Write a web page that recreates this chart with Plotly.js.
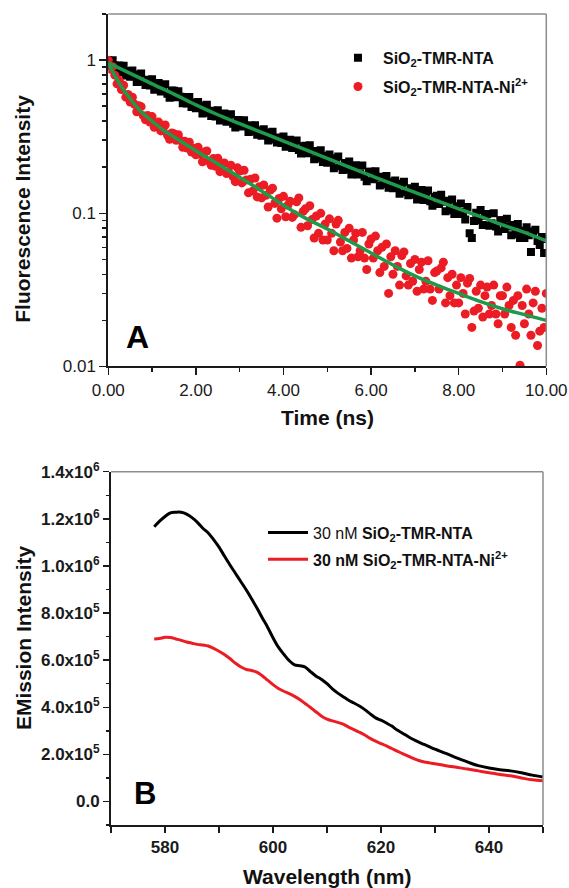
<!DOCTYPE html>
<html><head><meta charset="utf-8">
<script src="https://cdn.plot.ly/plotly-3.0.1.min.js"></script>
<style>html,body{margin:0;padding:0;background:#fff}#chart{width:569px;height:888px}</style>
</head><body><div id="chart"></div>
<script>
// ---------- Panel A : fluorescence decay ----------
const time = [0,0.05,0.1,0.15,0.2,0.25,0.3,0.35,0.4,0.45,
0.5,0.55,0.6,0.65,0.7,0.75,0.8,0.85,0.9,0.95,
1,1.05,1.1,1.15,1.2,1.25,1.3,1.35,1.4,1.45,
1.5,1.55,1.6,1.65,1.7,1.75,1.8,1.85,1.9,1.95,
2,2.05,2.1,2.15,2.2,2.25,2.3,2.35,2.4,2.45,
2.5,2.55,2.6,2.65,2.7,2.75,2.8,2.85,2.9,2.95,
3,3.05,3.1,3.15,3.2,3.25,3.3,3.35,3.4,3.45,
3.5,3.55,3.6,3.65,3.7,3.75,3.8,3.85,3.9,3.95,
4,4.05,4.1,4.15,4.2,4.25,4.3,4.35,4.4,4.45,
4.5,4.55,4.6,4.65,4.7,4.75,4.8,4.85,4.9,4.95,
5,5.05,5.1,5.15,5.2,5.25,5.3,5.35,5.4,5.45,
5.5,5.55,5.6,5.65,5.7,5.75,5.8,5.85,5.9,5.95,
6,6.05,6.1,6.15,6.2,6.25,6.3,6.35,6.4,6.45,
6.5,6.55,6.6,6.65,6.7,6.75,6.8,6.85,6.9,6.95,
7,7.05,7.1,7.15,7.2,7.25,7.3,7.35,7.4,7.45,
7.5,7.55,7.6,7.65,7.7,7.75,7.8,7.85,7.9,7.95,
8,8.05,8.1,8.15,8.2,8.25,8.3,8.35,8.4,8.45,
8.5,8.55,8.6,8.65,8.7,8.75,8.8,8.85,8.9,8.95,
9,9.05,9.1,9.15,9.2,9.25,9.3,9.35,9.4,9.45,
9.5,9.55,9.6,9.65,9.7,9.75,9.8,9.85,9.9,9.95,
10];

const decayFree = [1.0,0.917,1.0,0.924,0.838,0.922,0.838,0.919,0.795,0.850,
0.779,0.855,0.786,0.719,0.807,0.818,0.723,0.689,0.744,0.683,
0.749,0.641,0.693,0.708,0.625,0.635,0.695,0.603,0.569,0.633,
0.63,0.572,0.627,0.577,0.523,0.575,0.522,0.574,0.495,0.528,
0.485,0.532,0.49,0.449,0.505,0.512,0.453,0.432,0.467,0.429,
0.471,0.404,0.437,0.448,0.396,0.404,0.443,0.385,0.363,0.406,
0.404,0.369,0.405,0.374,0.339,0.374,0.342,0.376,0.326,0.349,
0.321,0.354,0.326,0.299,0.337,0.341,0.303,0.29,0.313,0.288,
0.317,0.272,0.294,0.302,0.267,0.271,0.299,0.259,0.246,0.274,
0.276,0.247,0.278,0.253,0.225,0.255,0.228,0.258,0.216,0.237,
0.214,0.242,0.22,0.197,0.229,0.235,0.203,0.192,0.213,0.193,
0.218,0.179,0.2,0.206,0.179,0.182,0.205,0.173,0.162,0.187,
0.187,0.167,0.188,0.171,0.152,0.173,0.155,0.175,0.147,0.161,
0.146,0.164,0.149,0.134,0.156,0.161,0.138,0.131,0.146,0.132,
0.149,0.123,0.137,0.142,0.122,0.126,0.141,0.12,0.112,0.128,
0.13,0.115,0.132,0.119,0.103,0.121,0.105,0.123,0.099,0.111,
0.099,0.116,0.102,0.091,0.11,0.074,0.069,0.089,0.101,0.09,
0.105,0.084,0.096,0.099,0.083,0.086,0.1,0.082,0.076,0.09,
0.09,0.079,0.092,0.082,0.072,0.084,0.073,0.085,0.069,0.077,
0.069,0.081,0.072,0.056,0.076,0.078,0.066,0.062,0.07,0.055,
0.068];

const decayNi = [1.0,0.873,0.907,0.798,0.70,0.738,0.643,0.685,0.573,0.597,
0.532,0.572,0.515,0.46,0.504,0.497,0.434,0.408,0.435,0.394,
0.428,0.364,0.389,0.394,0.345,0.348,0.377,0.324,0.304,0.335,
0.331,0.30,0.326,0.299,0.27,0.295,0.267,0.291,0.251,0.266,
0.241,0.27,0.244,0.217,0.251,0.255,0.219,0.206,0.228,0.203,
0.229,0.187,0.207,0.213,0.182,0.185,0.206,0.173,0.161,0.198,
0.189,0.158,0.191,0.165,0.136,0.167,0.14,0.17,0.128,0.149,
0.126,0.153,0.131,0.11,0.142,0.146,0.116,0.093,0.125,0.107,
0.129,0.095,0.113,0.12,0.094,0.098,0.119,0.126,0.081,0.103,
0.107,0.083,0.112,0.091,0.069,0.096,0.074,0.1,0.067,0.085,
0.067,0.092,0.074,0.057,0.085,0.09,0.065,0.057,0.075,0.059,
0.08,0.051,0.067,0.074,0.052,0.057,0.075,0.051,0.043,0.063,
0.068,0.051,0.071,0.057,0.041,0.06,0.045,0.063,0.03,0.052,
0.04,0.057,0.045,0.034,0.053,0.056,0.039,0.034,0.047,0.036,
0.05,0.031,0.043,0.048,0.032,0.036,0.049,0.032,0.027,0.041,
0.042,0.032,0.044,0.048,0.026,0.038,0.029,0.04,0.026,0.034,
0.026,0.038,0.03,0.022,0.035,0.0375,0.018,0.023,0.031,0.024,
0.034,0.021,0.029,0.033,0.022,0.025,0.034,0.022,0.019,0.029,
0.029,0.022,0.033,0.025,0.018,0.027,0.016,0.029,0.0102,0.025,
0.019,0.032,0.022,0.016,0.026,0.031,0.0137,0.017,0.024,0.018,
0.03];

const fitTimeFree = [0,0.5,1,1.5,2,2.5,3,3.5,4,4.5,5,5.5,6,6.5,7,7.5,8,8.5,9,9.5,10];
const fitFree = [0.96,0.82,0.70,0.60,0.51,0.44,0.385,0.338,0.296,0.26,0.228,0.2,0.176,0.155,0.137,0.121,0.107,0.095,0.084,0.075,0.066];
const fitTimeNi = [0,0.1,0.2,0.3,0.5,0.75,1,1.25,1.5,2,2.5,3,3.5,4,4.5,5,5.5,6,6.5,7,7.5,8,8.5,9,9.5,10];
const fitNi = [0.96,0.84,0.75,0.67,0.56,0.46,0.40,0.35,0.315,0.256,0.21,0.172,0.14,0.113,0.093,0.079,0.066,0.055,0.046,0.039,0.034,0.030,0.0265,0.0238,0.0218,0.020];

const decayTickVals = [0.01,0.1,1];
const decayTickText = ['0.01','0.1','1'];
const decayMinorVals = [0.02,0.03,0.04,0.05,0.06,0.07,0.08,0.09,0.2,0.3,0.4,0.5,0.6,0.7,0.8,0.9,2];
const timeTickVals = [0,2,4,6,8,10];
const timeTickText = ['0.00','2.00','4.00','6.00','8.00','10.00'];
const timeMinorVals = [1,3,5,7,9];

// ---------- Panel B : emission spectra ----------
const wavelength = [578,579,580,581,582,583,584,585,586,587,588,589,590,591,592,593,594,595,596,597,
598,599,600,601,602,603,604,605,606,607,608,609,610,611,612,613,614,615,616,617,
618,619,620,621,622,623,624,625,626,627,628,629,630,632,634,636,638,640,642,644,646,648,650];
const emFree = [1.166e6,1.19e6,1.21e6,1.225e6,1.228e6,1.228e6,1.22e6,1.205e6,1.185e6,1.16e6,
1.14e6,1.112e6,1.08e6,1.042e6,1.005e6,0.97e6,0.935e6,0.9e6,0.862e6,0.822e6,
0.78e6,0.74e6,0.695e6,0.655e6,0.625e6,0.598e6,0.58e6,0.576e6,0.57e6,0.55e6,
0.532e6,0.518e6,0.5e6,0.478e6,0.46e6,0.445e6,0.43e6,0.418e6,0.405e6,0.39e6,
0.372e6,0.355e6,0.345e6,0.333e6,0.32e6,0.303e6,0.29e6,0.276e6,0.263e6,0.252e6,
0.242e6,0.232e6,0.222e6,0.204e6,0.185e6,0.168e6,0.152e6,0.142e6,0.135e6,0.13e6,
0.122e6,0.112e6,0.104e6];
const emNi = [0.69e6,0.692e6,0.697e6,0.696e6,0.69e6,0.684e6,0.677e6,0.672e6,0.667e6,0.664e6,
0.66e6,0.65e6,0.638e6,0.624e6,0.607e6,0.588e6,0.572e6,0.561e6,0.556e6,0.549e6,
0.534e6,0.515e6,0.496e6,0.48e6,0.468e6,0.458e6,0.446e6,0.432e6,0.415e6,0.398e6,
0.38e6,0.362e6,0.35e6,0.342e6,0.336e6,0.328e6,0.316e6,0.305e6,0.294e6,0.282e6,
0.268e6,0.256e6,0.246e6,0.236e6,0.225e6,0.214e6,0.203e6,0.193e6,0.183e6,0.174e6,
0.168e6,0.164e6,0.16e6,0.152e6,0.145e6,0.138e6,0.13e6,0.122e6,0.115e6,0.109e6,
0.1e6,0.092e6,0.088e6];

const emTickVals = [0,2e5,4e5,6e5,8e5,1e6,1.2e6,1.4e6];
const emTickText = ['0.0','2.0x10<sup>5</sup>','4.0x10<sup>5</sup>','6.0x10<sup>5</sup>','8.0x10<sup>5</sup>','1.0x10<sup>6</sup>','1.2x10<sup>6</sup>','1.4x10<sup>6</sup>'];
const emMinorVals = [-1e5,1e5,3e5,5e5,7e5,9e5,1.1e6,1.3e6];
const wlTickVals = [580,600,620,640];
const wlMinorVals = [570,590,610,630,650];

const FONT = 'Liberation Sans, Arial, sans-serif';
const GREEN = '#1f9a4a', RED = '#ec1c24', BLACK = '#000000';

const traces = [
  {x: time, y: decayFree, xaxis:'x', yaxis:'y', type:'scatter', mode:'markers',
   name:'<b>SiO<sub>2</sub>-TMR-NTA</b>', legendgroup:'a', legend:'legend',
   marker:{symbol:'square', size:8, color:BLACK}},
  {x: time, y: decayNi, xaxis:'x', yaxis:'y', type:'scatter', mode:'markers',
   name:'<b>SiO<sub>2</sub>-TMR-NTA-Ni<sup>2+</sup></b>', legendgroup:'b', legend:'legend',
   marker:{symbol:'circle', size:9, color:RED}},
  {x: fitTimeFree, y: fitFree, xaxis:'x', yaxis:'y', type:'scatter', mode:'lines', showlegend:false,
   line:{color:GREEN, width:3.5, shape:'spline'}},
  {x: fitTimeNi, y: fitNi, xaxis:'x', yaxis:'y', type:'scatter', mode:'lines', showlegend:false,
   line:{color:GREEN, width:3.5, shape:'spline'}},
  {x: wavelength, y: emFree, xaxis:'x2', yaxis:'y2', type:'scatter', mode:'lines',
   name:'30 nM <b>SiO<sub>2</sub>-TMR-NTA</b>', legendgroup:'c', legend:'legend2',
   line:{color:BLACK, width:3, shape:'spline'}},
  {x: wavelength, y: emNi, xaxis:'x2', yaxis:'y2', type:'scatter', mode:'lines',
   name:'<b>30 nM SiO<sub>2</sub>-TMR-NTA-Ni<sup>2+</sup></b>', legendgroup:'d', legend:'legend2',
   line:{color:RED, width:3, shape:'spline'}}
];

const axisCommon = {showgrid:false, zeroline:false, showline:true, linecolor:'#1a1a1a', linewidth:2,
  ticks:'outside', tickcolor:'#1a1a1a', tickwidth:1.5, ticklen:7};

const layout = {
  width:569, height:888, margin:{l:0,r:0,t:0,b:0},
  paper_bgcolor:'#ffffff', plot_bgcolor:'#ffffff',
  font:{family:FONT, color:'#111111'},
  showlegend:true,
  xaxis: Object.assign({}, axisCommon, {domain:[0.1903,0.9601], anchor:'y', range:[0,10],
    tickmode:'array', tickvals:timeTickVals, ticktext:timeTickText,
    tickfont:{family:FONT, size:17, color:'#1a1a1a'},
    minor:{tickmode:'array', tickvals:timeMinorVals, ticks:'outside', ticklen:4, tickcolor:'#1a1a1a', tickwidth:1.5}}),
  yaxis: Object.assign({}, axisCommon, {domain:[0.5873,0.9842], anchor:'x', type:'log', range:[-2,0.301],
    tickmode:'array', tickvals:decayTickVals, ticktext:decayTickText,
    tickfont:{family:FONT, size:17, color:'#1a1a1a'},
    minor:{tickmode:'array', tickvals:decayMinorVals, ticks:'outside', ticklen:4, tickcolor:'#1a1a1a', tickwidth:1.5}}),
  xaxis2: Object.assign({}, axisCommon, {domain:[0.1951,0.9543], anchor:'y2', range:[570,650],
    tickmode:'array', tickvals:wlTickVals, ticklen:6,
    tickfont:{family:FONT, size:17, color:'#1a1a1a', weight:700},
    minor:{tickmode:'array', tickvals:wlMinorVals, ticks:'outside', ticklen:6, tickcolor:'#1a1a1a', tickwidth:1.5}}),
  yaxis2: Object.assign({}, axisCommon, {domain:[0.0709,0.4688], anchor:'x2', range:[-1e5,1.4e6],
    tickmode:'array', tickvals:emTickVals, ticktext:emTickText, ticklen:6,
    tickfont:{family:FONT, size:17, color:'#1a1a1a', weight:700},
    minor:{tickmode:'array', tickvals:emMinorVals, ticks:'outside', ticklen:3, tickcolor:'#1a1a1a', tickwidth:1.5}}),
  legend:{x:0.5852, y:0.954, xanchor:'left', yanchor:'top', bgcolor:'rgba(0,0,0,0)', borderwidth:0,
    itemwidth:40, traceorder:'grouped', tracegroupgap:5, font:{family:FONT, size:16, color:'#111111'}},
  legend2:{x:0.4622, y:0.4193, xanchor:'left', yanchor:'top', bgcolor:'rgba(0,0,0,0)', borderwidth:0,
    itemwidth:40, traceorder:'grouped', tracegroupgap:3, font:{family:FONT, size:16, color:'#111111'}},
  shapes:[
    {type:'line', xref:'x domain', yref:'y domain', x0:0, x1:1, y0:1, y1:1, line:{color:'#8c8c8c', width:1.5}},
    {type:'line', xref:'x domain', yref:'y domain', x0:1, x1:1, y0:0, y1:1, line:{color:'#8c8c8c', width:1.5}},
    {type:'line', xref:'x2 domain', yref:'y2 domain', x0:0, x1:1, y0:1, y1:1, line:{color:'#8c8c8c', width:1.5}},
    {type:'line', xref:'x2 domain', yref:'y2 domain', x0:1, x1:1, y0:0, y1:1, line:{color:'#8c8c8c', width:1.5}}
  ],
  annotations:[
    {text:'<b>A</b>', xref:'paper', yref:'paper', x:0.2417, y:0.6208, xanchor:'center', yanchor:'middle', showarrow:false, font:{family:FONT, size:32, color:'#000'}},
    {text:'<b>B</b>', xref:'paper', yref:'paper', x:0.2548, y:0.1059, xanchor:'center', yanchor:'middle', showarrow:false, font:{family:FONT, size:31, color:'#000'}},
    {text:'<b>Fluorescence Intensity</b>', xref:'paper', yref:'paper', x:0.0381, y:0.7646, textangle:-90, xanchor:'center', yanchor:'middle', showarrow:false, font:{family:FONT, size:21, color:'#111'}},
    {text:'<b>Time (ns)</b>', xref:'paper', yref:'paper', x:0.5747, y:0.5293, xanchor:'center', yanchor:'middle', showarrow:false, font:{family:FONT, size:21, color:'#111'}},
    {text:'<b>EMission Intensity</b>', xref:'paper', yref:'paper', x:0.0415, y:0.2821, textangle:-90, xanchor:'center', yanchor:'middle', showarrow:false, font:{family:FONT, size:21, color:'#111'}},
    {text:'<b>Wavelength (nm)</b>', xref:'paper', yref:'paper', x:0.5747, y:0.0127, xanchor:'center', yanchor:'middle', showarrow:false, font:{family:FONT, size:21, color:'#111'}}
  ]
};

Plotly.newPlot('chart', traces, layout, {displayModeBar:false, staticPlot:true});
</script>
</body></html>
